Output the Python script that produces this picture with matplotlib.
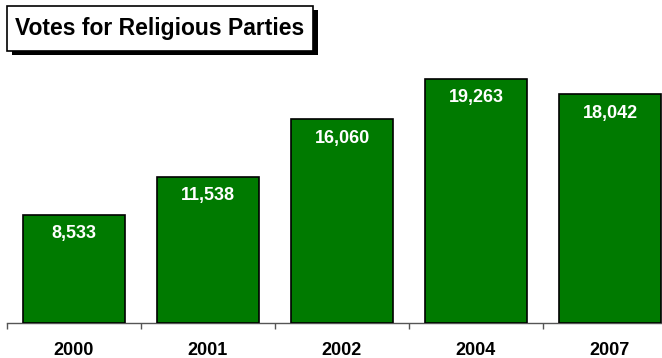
import matplotlib.pyplot as plt

plt.rcParams['font.family'] = ['Liberation Sans', 'DejaVu Sans']

years = ['2000', '2001', '2002', '2004', '2007']
votes = [8533, 11538, 16060, 19263, 18042]
labels = ['8,533', '11,538', '16,060', '19,263', '18,042']

W, H = 662, 358
fig = plt.figure(figsize=(W / 100, H / 100), dpi=100)

# axes: baseline at y=323px, 1000 votes ~ 12.68 px
bottom_px = 323
top_px = bottom_px - 12.68 * 20
ax = fig.add_axes([7 / W, 1 - bottom_px / H, 670 / W, (bottom_px - top_px) / H])

x = range(len(years))
ax.bar(x, votes, width=0.76, color='#007A00', edgecolor='black', linewidth=1.2, zorder=3)
ax.set_xlim(-0.5, 4.5)
ax.set_ylim(0, 20000)

for xi, v, lab in zip(x, votes, labels):
    ax.annotate(lab, (xi, v), xytext=(0, -19), textcoords='offset pixels',
                ha='center', va='center', color='white', fontsize=13,
                fontweight='bold', zorder=4)

for s in ['top', 'right', 'left']:
    ax.spines[s].set_visible(False)
ax.spines['bottom'].set_color('#555555')
ax.spines['bottom'].set_linewidth(1.0)
ax.set_yticks([])
ax.set_xticks(list(x))
ax.set_xticklabels(years, fontsize=13, fontweight='bold')
ax.tick_params(axis='x', which='major', length=0, pad=13.5)
ax.set_xticks([i - 0.5 for i in range(len(years) + 1)], minor=True)
ax.tick_params(axis='x', which='minor', length=4.3, width=1, color='#555555')

# title box with shadow
bx0, by0, bx1, by1 = 7, 6, 313, 51
shadow = plt.Rectangle(((bx0 + 5) / W, 1 - (by1 + 4) / H), (bx1 - bx0) / W, (by1 - by0) / H,
                       transform=fig.transFigure, facecolor='black', edgecolor='none')
box = plt.Rectangle((bx0 / W, 1 - by1 / H), (bx1 - bx0) / W, (by1 - by0) / H,
                    transform=fig.transFigure, facecolor='white', edgecolor='black', linewidth=1.2)
fig.add_artist(shadow)
fig.add_artist(box)
fig.text((bx0 + bx1) / 2 / W, 1 - (by0 + by1) / 2 / H, 'Votes for Religious Parties',
         ha='center', va='center', fontsize=16.5, fontweight='bold')

fig.savefig('out.png', dpi=100)
